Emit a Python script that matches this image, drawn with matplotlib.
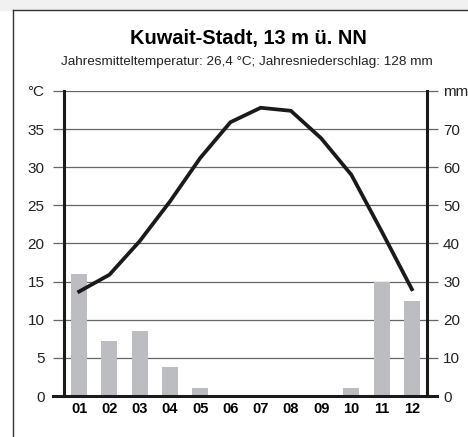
import matplotlib.pyplot as plt
from matplotlib.lines import Line2D
from matplotlib.patches import Rectangle

plt.rcParams["font.family"] = ["Liberation Sans", "DejaVu Sans"]

months = ["01", "02", "03", "04", "05", "06", "07", "08", "09", "10", "11", "12"]
temp = [13.7, 15.9, 20.3, 25.5, 31.2, 35.9, 37.8, 37.4, 33.8, 29.0, 21.6, 14.0]
precip = [32, 14.5, 17, 7.5, 2, 0, 0, 0, 0, 2, 30, 25]
temp_ticks = [0, 5, 10, 15, 20, 25, 30, 35, 40]
temp_labels = ["0", "5", "10", "15", "20", "25", "30", "35", "°C"]
precip_ticks = [0, 10, 20, 30, 40, 50, 60, 70, 80]
precip_labels = ["0", "10", "20", "30", "40", "50", "60", "70", "mm"]

fig = plt.figure(figsize=(4.68, 4.37), dpi=100)

# outer frame (cut at right and bottom)
fig.add_artist(Rectangle((0, 0.977), 1, 0.023, transform=fig.transFigure,
                         color="#f1f1f1", zorder=0))
fig.add_artist(Line2D([0.0278, 0.0278], [0, 0.977], transform=fig.transFigure,
                      color="#333333", lw=1))
fig.add_artist(Line2D([0.0278, 1.0], [0.977, 0.977], transform=fig.transFigure,
                      color="#333333", lw=1))

fig.text(0.53, 0.911, "Kuwait-Stadt, 13 m ü. NN", ha="center", va="center",
         fontsize=14.4, fontweight="bold")
fig.text(0.528, 0.858, "Jahresmitteltemperatur: 26,4 °C; Jahresniederschlag: 128 mm",
         ha="center", va="center", fontsize=9.7, color="#222222")

rect = [0.1368, 0.0938, 0.7756, 0.698]
# precipitation axis (drawn underneath, holds grid + bars)
ax2 = fig.add_axes(rect)
ax = fig.add_axes(rect, sharex=ax2)
ax.patch.set_visible(False)

x = range(len(months))
ax2.bar(x, precip, width=0.53, color="#bcbdc1", zorder=2)
ax2.set_ylim(0, 80)
ax2.set_xlim(-0.5, 11.5)
ax2.set_yticks(precip_ticks)
ax2.set_yticklabels(precip_labels)
ax2.yaxis.tick_right()
ax2.yaxis.set_label_position("right")
ax2.grid(axis="y", color="#666666", lw=0.9, zorder=1)
ax2.set_axisbelow(True)
ax2.tick_params(axis="y", direction="out", length=8, width=0.9, color="#666666",
                labelsize=11, pad=3.5, labelcolor="#222222")
ax2.tick_params(axis="x", length=0, labelbottom=False)
for s in ax2.spines.values():
    s.set_visible(False)

ax.plot(x, temp, color="#1a1a1a", lw=2.7, solid_joinstyle="miter", zorder=5)
ax.set_ylim(0, 40)
ax.set_yticks(temp_ticks)
ax.set_yticklabels(temp_labels)
ax.tick_params(axis="y", direction="out", length=8, width=0.9, color="#666666",
               labelsize=11, pad=6, labelcolor="#222222")
ax.set_xticks(list(x))
ax.set_xticklabels(months, fontweight="bold", fontsize=10.5)
ax.tick_params(axis="x", length=0, pad=4)
ax.spines["top"].set_visible(False)
ax.spines["bottom"].set_visible(False)
for side in ["left", "right"]:
    ax.spines[side].set_linewidth(2.2)
    ax.spines[side].set_color("#1a1a1a")

# thick baseline reaching past the side axes
ax.plot([-0.03, 1.028], [0, 0], transform=ax.transAxes, color="#1a1a1a",
        lw=2.2, clip_on=False, zorder=6)

fig.savefig("out.png", dpi=100)
